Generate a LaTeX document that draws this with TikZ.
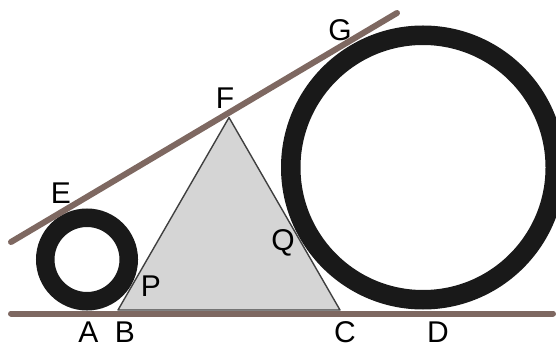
\documentclass[tikz,border=0pt]{standalone}
\usepackage{fontspec}
\setmainfont{Liberation Sans}
\usepackage{tikz}
\definecolor{rodbrown}{RGB}{126,104,97}
\definecolor{wedgegray}{RGB}{213,213,213}

\begin{document}
\begin{tikzpicture}[x=0.5pt, y=-0.5pt,
    rod/.style={draw=rodbrown, line width=3pt, line cap=round},
    ring/.style={draw=black!90, fill=none},
    wedge/.style={fill=wedgegray, draw=black!75, line width=0.7pt, line join=round},
    lbl/.style={font=\fontsize{15}{17}\selectfont, inner sep=0pt},
  ]
    \useasboundingbox (0,0) rectangle (556,347);
    % puntos
    \coordinate (o1) at (87,259.5);
    \coordinate (o2) at (423,167.5);
    \coordinate (b)  at (118,310);
    \coordinate (c)  at (340,310);
    \coordinate (f)  at (229,117.5);
    \coordinate (g0) at (11,242);
    \coordinate (g1) at (397,13);
    \coordinate (h0) at (11,313.5);
    \coordinate (h1) at (553,313.5);
    % triangulo
    \draw[wedge] (b) -- (f) -- (c) -- cycle;
    % circunferencias
    \draw[ring, line width=9.25pt] (o1) circle[radius=41.75];
    \draw[ring, line width=9.75pt] (o2) circle[radius=132.25];
    % rectas
    \draw[rod] (h0) -- (h1);
    \draw[rod] (g0) -- (g1);
    % etiquetas
    \node[lbl] (lE) at (61,193) {E};
    \node[lbl] (lF) at (225,98.5) {F};
    \node[lbl] (lG) at (340,30) {G};
    \node[lbl] (lP) at (151,286) {P};
    \node[lbl] (lQ) at (283,243) {Q};
    \node[lbl] (lA) at (88.5,332) {A};
    \node[lbl] (lB) at (125,332) {B};
    \node[lbl] (lC) at (345,332) {C};
    \node[lbl] (lD) at (438,332) {D};
\end{tikzpicture}
\end{document}
